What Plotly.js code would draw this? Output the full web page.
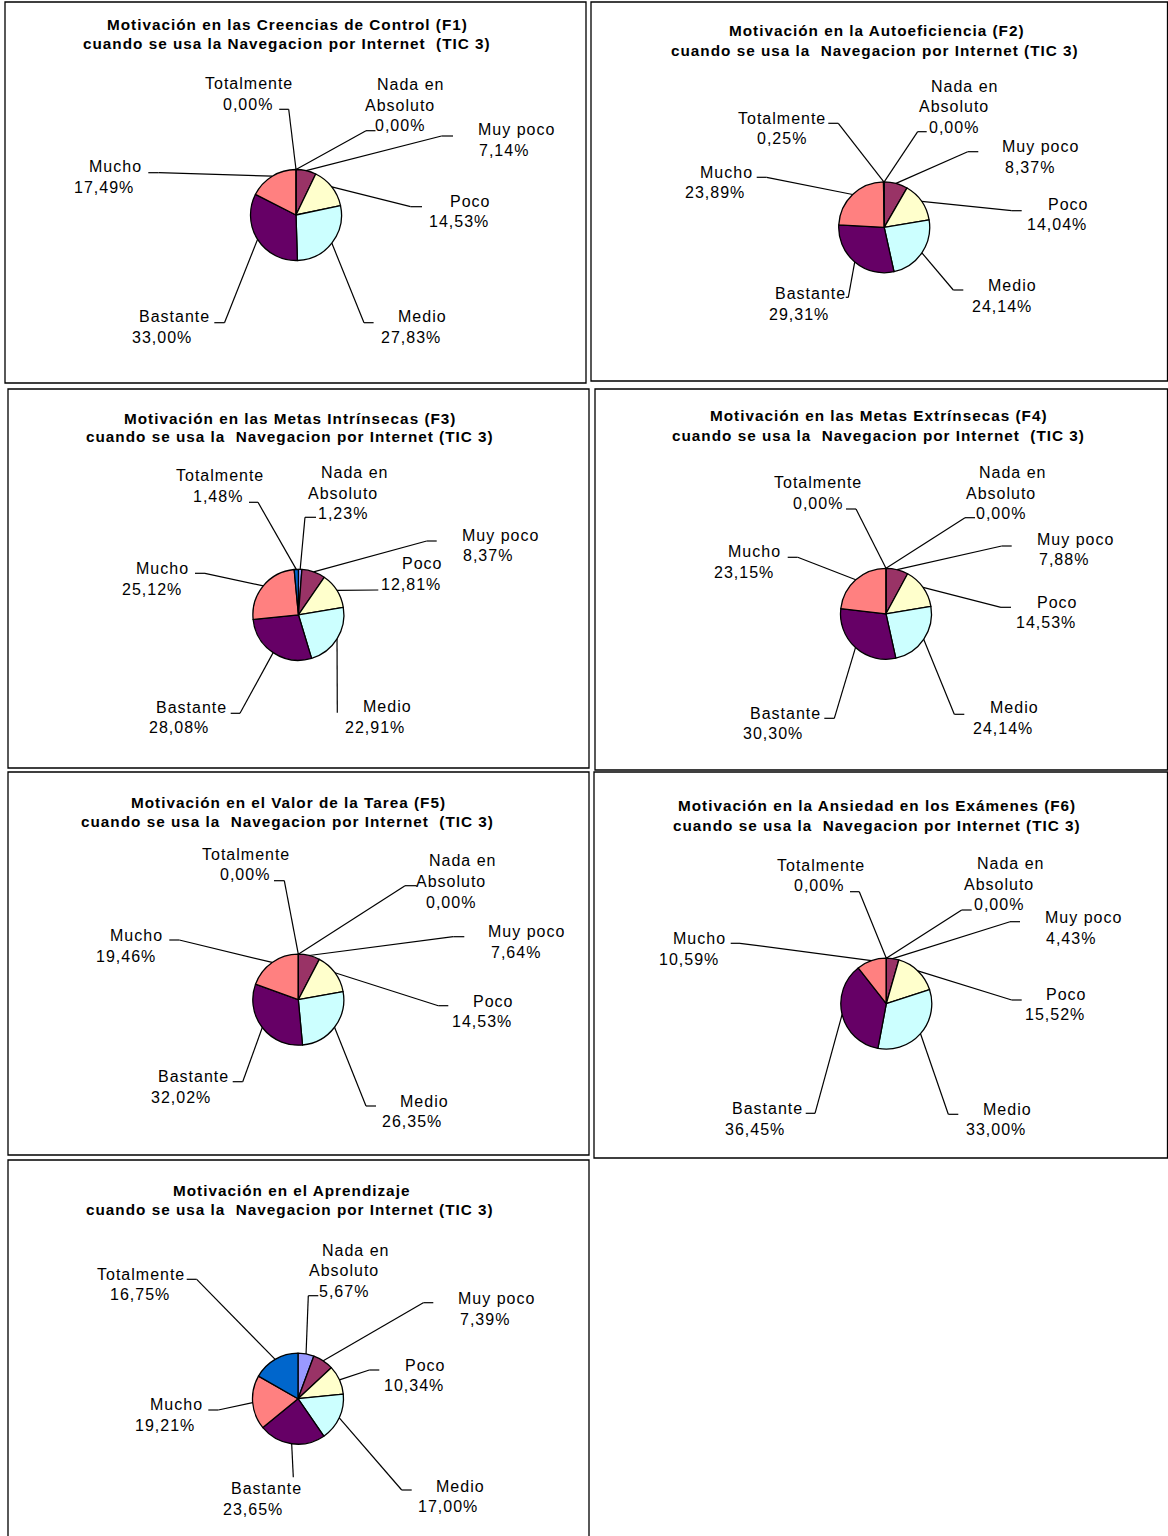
<!DOCTYPE html>
<html>
<head>
<meta charset="utf-8">
<script src="https://cdn.plot.ly/plotly-3.0.1.min.js"></script>
<style>
  html, body { margin: 0; padding: 0; background: #ffffff; }
  #chart { width: 1168px; height: 1536px; }
  .annotation-text { letter-spacing: 1px; }
</style>
</head>
<body>
<div id="chart"></div>
<script>
// Response categories, in drawing order (clockwise from 12 o'clock)
const categories = ['Nada en Absoluto', 'Muy poco', 'Poco', 'Medio', 'Bastante', 'Mucho', 'Totalmente'];

// Percentages per motivation factor (TIC 3: Navegacion por Internet)
const valuesF1 = [0.00, 7.14, 14.53, 27.83, 33.00, 17.49, 0.00];
const valuesF2 = [0.00, 8.37, 14.04, 24.14, 29.31, 23.89, 0.25];
const valuesF3 = [1.23, 8.37, 12.81, 22.91, 28.08, 25.12, 1.48];
const valuesF4 = [0.00, 7.88, 14.53, 24.14, 30.30, 23.15, 0.00];
const valuesF5 = [0.00, 7.64, 14.53, 26.35, 32.02, 19.46, 0.00];
const valuesF6 = [0.00, 4.43, 15.52, 33.00, 36.45, 10.59, 0.00];
const valuesAprendizaje = [5.67, 7.39, 10.34, 17.00, 23.65, 19.21, 16.75];

const titleFirstLines = [
  'Motivación en las Creencias de Control (F1)',
  'Motivación en la Autoeficiencia (F2)',
  'Motivación en las Metas Intrínsecas (F3)',
  'Motivación en las Metas Extrínsecas (F4)',
  'Motivación en el Valor de la Tarea (F5)',
  'Motivación en la Ansiedad en los Exámenes (F6)',
  'Motivación en el Aprendizaje'
];
const titleSecondLines = [
  'cuando se usa la Navegacion por Internet  (TIC 3)',
  'cuando se usa la  Navegacion por Internet (TIC 3)',
  'cuando se usa la  Navegacion por Internet (TIC 3)',
  'cuando se usa la  Navegacion por Internet  (TIC 3)',
  'cuando se usa la  Navegacion por Internet  (TIC 3)',
  'cuando se usa la  Navegacion por Internet (TIC 3)',
  'cuando se usa la  Navegacion por Internet (TIC 3)'
];

const allSeries = [valuesF1, valuesF2, valuesF3, valuesF4, valuesF5, valuesF6, valuesAprendizaje];

// Slice fills, one per category
const sliceColors = ['#9999FF', '#993366', '#FFFFCC', '#CCFFFF', '#660066', '#FF8080', '#0066CC'];

// Page geometry (pixels): frame box, pie centre/radius, title line centres,
// and for each category label: [first line x, other lines x, first line y,
// elbow x, elbow y, stub end x]
const panels = [
  { box: [5, 2, 586, 383], cx: 296, cy: 215, r: 45.5, title: [287, 287, 24, 43.3],
    labels: [[411, 400, 84.3, 366, 130.7, 375.5], [516, 504, 130, 441.5, 136, 453],
             [470, 458.5, 201, 410.6, 206.7, 422], [422, 410.6, 316.7, 364, 322.7, 373.6],
             [174.3, 161.5, 316.7, 224.5, 322.7, 214.3], [115, 103.8, 166.7, 158.5, 172.7, 148.3],
             [249, 248.3, 83.3, 288.7, 109.3, 279.2]] },
  { box: [591, 2, 1167.5, 381], cx: 884.2, cy: 227.3, r: 45.5, title: [876.5, 875, 31, 50],
    labels: [[965, 954, 86, 917.7, 131.7, 926.7], [1040, 1030, 146.7, 967.7, 151.7, 978.3],
             [1067.7, 1056.7, 204, 1011.7, 210.7, 1021.7], [1012.3, 1001.7, 285.7, 953.3, 290, 963.3],
             [810, 799.3, 293.3, 848.3, 297.3, 845.7], [726, 715, 172.3, 766.7, 177.3, 756.7],
             [781.7, 781.7, 118.3, 838.3, 123.3, 828.3]] },
  { box: [8, 389, 589, 768], cx: 298.4, cy: 614.8, r: 45.5, title: [289.5, 289.5, 418, 437],
    labels: [[355, 343.3, 472.3, 305, 517.3, 316], [500, 488.3, 535, 426.7, 541, 436.7],
             [421.7, 410.5, 563.7, 378.3, 590, 378.3], [387.3, 375, 706.7, 337.3, 712.7, 337.3],
             [191.7, 179.3, 707.3, 240, 713.3, 230.7], [162.7, 151.7, 568.3, 205, 573.3, 195],
             [220, 218.3, 475.7, 258, 502.3, 249]] },
  { box: [595, 389, 1167.5, 770], cx: 886, cy: 613.8, r: 45.5, title: [878.5, 878, 416, 435],
    labels: [[1012.7, 1001, 472.3, 965, 517.7, 975], [1075, 1064, 539.3, 1001.7, 546, 1011.7],
             [1056.7, 1046, 602.3, 1001, 607.3, 1011], [1015, 1003.3, 707.7, 954.3, 714.3, 964.3],
             [785.7, 773.3, 713.3, 834.3, 718.3, 824.3], [755, 744.3, 551.7, 797.7, 557.3, 787.7],
             [818.3, 817.7, 482.7, 856, 509, 846]] },
  { box: [8, 772, 589, 1155], cx: 298.3, cy: 999.7, r: 45.5, title: [288.5, 287.5, 802, 821],
    labels: [[462.7, 451, 860.7, 405, 885.7, 416.7], [526.7, 515.7, 931.7, 453.3, 936.7, 464.3],
             [492.7, 481.7, 1001, 438.3, 1005.7, 448.3], [424.3, 412.3, 1101, 366, 1106, 376],
             [193.3, 181, 1076.7, 242.7, 1081.7, 232.7], [136.7, 126, 935.7, 179.3, 940, 169.3],
             [245.7, 245, 854, 284.3, 880.7, 274]] },
  { box: [594, 772, 1167.5, 1158], cx: 886.3, cy: 1003.7, r: 45.5, title: [877, 877, 805, 825],
    labels: [[1011, 999, 863.3, 961.7, 910, 971.7], [1083.3, 1071, 917.3, 1010, 921.7, 1020],
             [1066, 1055, 994, 1011.7, 1000, 1021.7], [1007.7, 996, 1109, 948.3, 1114.3, 958.3],
             [767.3, 755, 1108.3, 815, 1113.3, 805.7], [699.3, 689, 938.3, 740, 943.3, 730.7],
             [821, 819.3, 865, 859.3, 891.7, 850]] },
  { box: [8, 1160, 589, 1540], cx: 298, cy: 1398.7, r: 45.5, title: [291, 289.5, 1190, 1209],
    labels: [[356, 344.3, 1250, 308.3, 1295.7, 318.3], [496.7, 485, 1298.3, 423.3, 1302.7, 433.3],
             [425, 414.3, 1365, 369.3, 1370, 379.3], [460, 448.3, 1486, 401.7, 1490, 411.7],
             [266.7, 253.3, 1488.3, 293.3, 1477.3, 293.3], [176, 165, 1404.3, 218.3, 1410, 208.3],
             [141, 140, 1274, 196.7, 1279.3, 186.7]] }
];

const W = 1168, H = 1536;
const LINE_STEP = 20.7;
const px = x => x / W;
const py = y => 1 - y / H;
const fmtPct = v => v.toFixed(2).replace('.', ',') + '%';
const splitName = s => {
  if (s.length <= 12) return [s];
  const k = s.lastIndexOf(' ');
  return [s.slice(0, k), s.slice(k + 1)];
};

const labelFont = { family: 'Liberation Sans, Arial, sans-serif', size: 16, color: '#000000' };
const titleFont = { family: 'Liberation Sans, Arial, sans-serif', size: 15.3, color: '#000000', weight: 'bold' };

const traces = [];
const shapes = [];
const annotations = [];

const textAt = (x, y, text, font) => annotations.push({
  xref: 'paper', yref: 'paper', x: px(x), y: py(y), text: text,
  showarrow: false, xanchor: 'center', yanchor: 'middle', font: font
});
const segment = (x0, y0, x1, y1) => shapes.push({
  type: 'line', xref: 'paper', yref: 'paper', layer: 'above',
  x0: px(x0), y0: py(y0), x1: px(x1), y1: py(y1),
  line: { color: '#000000', width: 1.2 }
});

panels.forEach((p, k) => {
  const vals = allSeries[k];

  // frame around each chart
  shapes.push({
    type: 'rect', xref: 'paper', yref: 'paper', layer: 'above',
    x0: px(p.box[0]), y0: py(p.box[1]), x1: px(p.box[2]), y1: py(p.box[3]),
    line: { color: '#000000', width: 1.3 }, fillcolor: 'rgba(0,0,0,0)'
  });

  traces.push({
    type: 'pie',
    labels: categories,
    values: vals,
    sort: false,
    direction: 'clockwise',
    rotation: 0,
    textinfo: 'none',
    hoverinfo: 'label+percent',
    showlegend: false,
    marker: { colors: sliceColors, line: { color: '#000000', width: 1.3 } },
    domain: {
      x: [px(p.cx - p.r), px(p.cx + p.r)],
      y: [py(p.cy + p.r), py(p.cy - p.r)]
    }
  });

  // two-line bold heading
  textAt(p.title[0], p.title[2], titleFirstLines[k], titleFont);
  textAt(p.title[1], p.title[3], titleSecondLines[k], titleFont);

  // data labels with leader lines from the middle of each slice's arc
  const total = vals.reduce((a, b) => a + b, 0);
  let cum = 0;
  vals.forEach((v, i) => {
    const theta = 2 * Math.PI * (cum + v / 2) / total;
    cum += v;
    const ex = p.cx + p.r * Math.sin(theta);
    const ey = p.cy - p.r * Math.cos(theta);
    const [x1, x2, y1, bx, by, sx] = p.labels[i];
    segment(ex, ey, bx, by);
    if (Math.abs(sx - bx) > 0.5) segment(bx, by, sx, by);

    const lines = splitName(categories[i]).concat([fmtPct(v)]);
    lines.forEach((t, j) => textAt(j === 0 ? x1 : x2, y1 + j * LINE_STEP, t, labelFont));
  });
});

const layout = {
  width: W,
  height: H,
  margin: { l: 0, r: 0, t: 0, b: 0, pad: 0 },
  paper_bgcolor: '#ffffff',
  plot_bgcolor: '#ffffff',
  showlegend: false,
  shapes: shapes,
  annotations: annotations
};

Plotly.newPlot('chart', traces, layout, { staticPlot: true, displayModeBar: false });
</script>
</body>
</html>
